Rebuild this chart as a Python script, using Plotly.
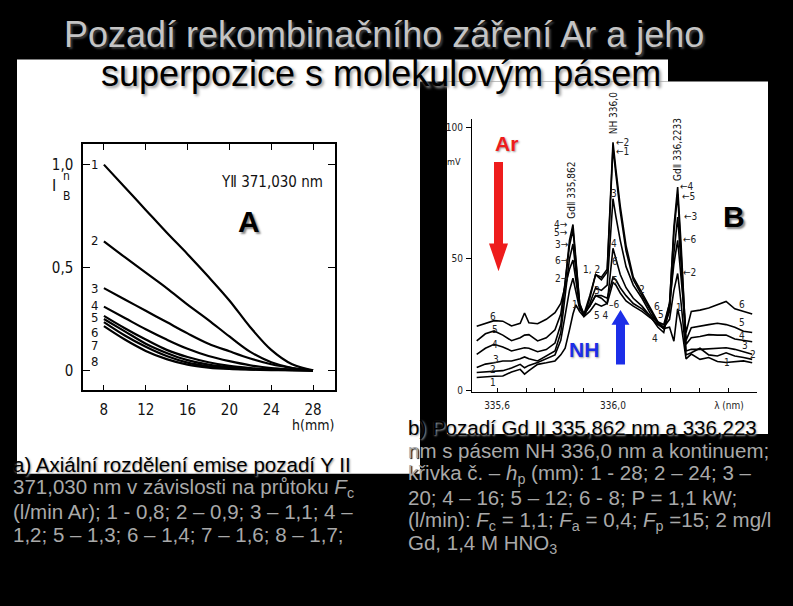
import plotly.graph_objects as go

W, H = 793, 606

# ---------------- Data: panel A (Y II 371,030 nm) ----------------
h_mm = [8, 10, 12, 14, 16, 18, 20, 22, 24, 26, 28]
a1 = [1.0, 0.89, 0.78, 0.67, 0.565, 0.455, 0.34, 0.21, 0.10, 0.03, 0.0]
a2 = [0.627, 0.55, 0.475, 0.40, 0.32, 0.245, 0.165, 0.09, 0.04, 0.012, 0.0]
a3 = [0.40, 0.345, 0.29, 0.235, 0.18, 0.13, 0.093, 0.058, 0.03, 0.012, 0.0]
a4 = [0.31, 0.255, 0.20, 0.15, 0.105, 0.07, 0.045, 0.025, 0.012, 0.005, 0.0]
a5 = [0.265, 0.205, 0.15, 0.10, 0.065, 0.04, 0.022, 0.012, 0.006, 0.003, 0.0]
a6 = [0.25, 0.19, 0.13, 0.085, 0.05, 0.028, 0.015, 0.008, 0.004, 0.002, 0.0]
a7 = [0.235, 0.17, 0.115, 0.07, 0.038, 0.02, 0.01, 0.005, 0.003, 0.001, 0.0]
a8 = [0.215, 0.15, 0.095, 0.055, 0.028, 0.014, 0.007, 0.004, 0.002, 0.001, 0.0]
a_curves = [a1, a2, a3, a4, a5, a6, a7, a8]
a_label_y = [1.0, 0.629, 0.40, 0.314, 0.255, 0.186, 0.122, 0.045]
a_xticks = [8, 12, 16, 20, 24, 28]
a_yticks = [0, 0.5, 1.0]
a_yticktext = ["0", "0,5", "1,0"]

# ---------------- Data: panel B (spectra, mV) ----------------
lam = [335.53, 335.56, 335.59, 335.62, 335.65, 335.68, 335.695, 335.71, 335.74, 335.77,
       335.80, 335.82, 335.835, 335.85, 335.862, 335.872, 335.885, 335.90, 335.92, 335.94,
       335.96, 335.98, 335.99, 336.00, 336.01, 336.025, 336.045, 336.07, 336.10, 336.13,
       336.155, 336.175, 336.195, 336.21, 336.223, 336.235, 336.252, 336.27, 336.30, 336.33,
       336.36, 336.39, 336.42, 336.45, 336.48]
b1 = [4.9, 5.2, 5.4, 5.5, 7.0, 8.0, 6.2, 7.5, 9.9, 10.5,
      11.2, 13.5, 16.0, 23.0, 29.0, 32.5, 30.0, 28.0, 35.0, 44.0,
      42.0, 45.0, 66.0, 92.3, 82.0, 68.0, 53.0, 42.0, 36.0, 30.0,
      25.5, 23.5, 24.0, 18.7, 31.0, 25.0, 12.0, 13.8, 11.8, 12.5,
      11.0, 10.6, 10.8, 11.2, 10.5]
b2 = [6.8, 7.0, 7.3, 7.5, 8.5, 9.9, 8.6, 9.5, 10.6, 12.0,
      13.5, 19.0, 28.0, 38.0, 42.6, 38.0, 31.0, 29.0, 36.0, 44.0,
      43.0, 46.0, 68.0, 94.2, 84.0, 70.0, 55.0, 43.0, 37.0, 31.0,
      26.0, 24.0, 27.0, 38.0, 44.4, 33.0, 13.5, 14.3, 16.0, 13.5,
      13.1, 14.3, 13.1, 12.5, 11.8]
b3 = [8.7, 10.0, 10.5, 11.2, 11.2, 12.0, 12.7, 12.0, 11.2, 13.0,
      15.0, 22.0, 36.0, 50.0, 55.6, 45.0, 32.0, 28.0, 33.0, 39.0,
      38.0, 40.0, 55.0, 72.8, 66.0, 57.0, 47.0, 40.0, 35.0, 29.0,
      25.5, 23.5, 30.0, 52.0, 65.8, 48.0, 15.0, 15.6, 15.6, 15.8,
      16.0, 16.2, 15.6, 14.5, 13.7]
b4 = [13.7, 16.0, 17.5, 16.5, 15.0, 15.8, 16.2, 16.0, 14.7, 15.5,
      18.0, 25.0, 40.0, 57.0, 63.0, 50.0, 33.0, 28.0, 30.0, 33.0,
      32.0, 33.0, 43.0, 54.0, 50.0, 44.0, 39.0, 35.0, 32.0, 28.0,
      24.0, 22.0, 32.0, 62.0, 77.2, 55.0, 17.5, 20.0, 20.5, 21.2,
      21.0, 21.0, 19.5, 19.0, 18.5]
b5 = [18.8, 21.5, 22.6, 21.0, 18.9, 20.0, 21.0, 21.2, 18.8, 20.0,
      23.0, 29.0, 41.0, 55.0, 61.0, 48.0, 33.0, 29.0, 32.0, 36.0,
      35.0, 33.0, 37.0, 41.0, 40.0, 37.0, 34.0, 32.0, 30.0, 27.5,
      25.0, 23.5, 33.0, 60.0, 74.6, 53.0, 19.0, 23.8, 24.5, 25.0,
      25.5, 25.0, 24.0, 22.5, 22.0]
b6 = [24.4, 25.5, 26.5, 26.3, 24.5, 25.5, 29.4, 25.7, 25.3, 27.0,
      29.5, 33.0, 39.0, 46.0, 49.5, 42.0, 32.0, 29.0, 32.0, 36.0,
      36.0, 35.0, 39.0, 43.0, 42.0, 39.0, 36.0, 33.0, 31.0, 28.0,
      26.0, 25.0, 33.0, 48.0, 57.0, 42.0, 22.0, 30.0, 30.5, 31.3,
      32.5, 33.8, 31.0, 30.0, 29.0]
b_curves = [b1, b2, b3, b4, b5, b6]
b_xticks = [335.6, 335.7, 335.8, 335.9, 336.0, 336.1, 336.2, 336.3, 336.4]
b_xticktext = ["335,6", " ", " ", " ", "336,0", " ", " ", " ", "\u03bb (nm)"]
b_yticks = [0, 50, 100]


def PX(x):
    return x / W


def PY(y):
    return 1 - y / H


fig = go.Figure()

for c in a_curves:
    fig.add_trace(go.Scatter(x=h_mm, y=c, mode="lines", xaxis="x", yaxis="y",
                             line=dict(color="black", width=2.2, shape="spline"),
                             showlegend=False, hoverinfo="skip"))
for c in b_curves:
    fig.add_trace(go.Scatter(x=lam, y=c, mode="lines", xaxis="x2", yaxis="y2",
                             line=dict(color="black", width=1.6),
                             showlegend=False, hoverinfo="skip"))

shapes = []
# white panels
shapes.append(dict(type="rect", xref="paper", yref="paper", x0=PX(17), x1=PX(420),
                   y0=PY(477), y1=PY(60), fillcolor="white", line_width=0, layer="below"))
shapes.append(dict(type="rect", xref="paper", yref="paper", x0=PX(420), x1=PX(668),
                   y0=PY(82), y1=PY(60), fillcolor="white", line_width=0, layer="below"))
shapes.append(dict(type="rect", xref="paper", yref="paper", x0=PX(447), x1=PX(768),
                   y0=PY(437), y1=PY(82), fillcolor="white", line_width=0, layer="below"))


def poly(points):
    s = "M " + " L ".join(f"{PX(x):.5f},{PY(y):.5f}" for x, y in points) + " Z"
    return s

# red arrow (down)
shapes.append(dict(type="path", xref="paper", yref="paper", line_width=0, fillcolor="#ee1c1c",
                   path=poly([(494, 163), (503, 163), (503, 245), (508, 245), (498.5, 273),
                              (489, 245), (494, 245)])))
# blue arrow (up)
shapes.append(dict(type="path", xref="paper", yref="paper", line_width=0, fillcolor="#1c2ee8",
                   path=poly([(616, 367), (625, 367), (625, 327), (629.5, 327), (620.5, 312),
                              (611.5, 327), (616, 327)])))

ann = []
NARROW = "Liberation Sans Narrow, DejaVu Sans Condensed, Arial Narrow, sans-serif"
ARIAL = "Liberation Sans, Arial, sans-serif"


def txt(t, x, y, size=11, color="#111", family=NARROW,
        xanchor="center", yanchor="middle", angle=0, weight=None, shadow=None):
    f = dict(size=size, color=color, family=family)
    if weight:
        f["weight"] = weight
    if shadow:
        f["shadow"] = shadow
    ann.append(dict(text=t, x=PX(x), y=PY(y), xref="paper", yref="paper", showarrow=False,
                    xanchor=xanchor, yanchor=yanchor, textangle=angle, font=f))


# Title
txt("Pozad\u00ed rekombina\u010dn\u00edho z\u00e1\u0159en\u00ed Ar a jeho", 384, 35, size=36,
    color="#c4c4c4", family=ARIAL, shadow="2px 2px 2px #3a3a3a")
txt("superpozice s molekulov\u00fdm p\u00e1sem", 381, 74, size=36, color="#000000",
    family=ARIAL, shadow="2px 2px 3px #9a9a9a")

# Panel A texts
txt("Y\u2161 371,030 nm", 272, 183, size=15)
txt("<b>A</b>", 249, 223, size=30, family=ARIAL, color="#000", shadow="2px 2px 2px #888")
txt("I", 54, 187, size=16)
txt("n", 66, 177, size=12)
txt("B", 66, 197, size=12)
txt("h(mm)", 313, 428, size=14)
for i, yv in enumerate(a_label_y):
    ann.append(dict(text=str(i + 1), x=7.1, y=yv, xref="x", yref="y", showarrow=False,
                    xanchor="center", yanchor="middle",
                    font=dict(size=13, color="#111", family=NARROW)))

# Panel B texts
txt("Ar", 506, 144, size=21, family=ARIAL, color="#ee1c1c", weight="bold", shadow="1px 1px 2px #999")
txt("NH", 584, 352, size=21, family=ARIAL, color="#1c2ee8", weight="bold", shadow="1px 1px 2px #999")
txt("<b>B</b>", 734, 218, size=30, family=ARIAL, color="#000", shadow="2px 2px 2px #888")
txt("mV", 454, 163, size=9)
txt("Gd\u2161 335,862", 572, 192, size=10, angle=-90)
txt("NH 336,0", 613, 114, size=10, angle=-90)
txt("Gd\u2161 336,2233", 677, 151, size=10, angle=-90)

small = [
    ("4\u2192", 561, 226), ("5\u2192", 561, 234), ("3\u2192", 562, 246), ("6\u2192", 562, 262),
    ("2\u2192", 562, 280),
    ("\u21902", 622, 143), ("\u21901", 622, 153),
    ("\u21904", 687, 188), ("\u21905", 688, 198), ("\u21903", 690, 218), ("\u21906", 690, 241),
    ("\u21902", 689, 274),
    ("1", 575, 307), ("1, 2", 591, 271), ("3", 597, 292), ("4", 614, 245), ("3", 614, 195),
    ("6", 615, 263), ("5", 615, 282), ("\u20136", 614, 307), ("5 4", 601, 318),
    ("2", 642, 291), ("6", 657, 309), ("5", 661, 317), ("4", 655, 341), ("1", 679, 310),
    ("6", 493, 319), ("5", 495, 332), ("4", 495, 347), ("3", 496, 362), ("2", 493, 372),
    ("1", 493, 385),
    ("6", 742, 307), ("5", 742, 325), ("4", 742, 338), ("3", 745, 348), ("2", 753, 357),
    ("1", 727, 365),
]
for t, x, y in small:
    txt(t, x, y, size=10, color="#222")

# Captions
GRAY = "#a9a9a9"
gsh = "1px 1px 1px #000"
lines_a = [
    ("a) Axi\u00e1ln\u00ed rozd\u011blen\u00ed emise pozad\u00ed Y II", "#000", "1px 1px 2px #999"),
    ("371,030 nm v z\u00e1vislosti na pr\u016ftoku <i>F</i><sub>c</sub>", GRAY, gsh),
    ("(l/min Ar); 1 - 0,8; 2 \u2013 0,9; 3 \u2013 1,1; 4 \u2013", GRAY, gsh),
    ("1,2; 5 \u2013 1,3; 6 \u2013 1,4; 7 \u2013 1,6; 8 \u2013 1,7;", GRAY, gsh),
]
for i, (t, col, sh) in enumerate(lines_a):
    txt(t, 11, 468 + i * 23.2, size=20.5, color=col, family=ARIAL, xanchor="left", shadow=sh)

lines_b = [
    ("b) Pozad\u00ed Gd II 335,862 nm a 336,223", "#000", "1px 1px 2px #aaa"),
    ("nm s p\u00e1sem NH 336,0 nm a kontinuem;", GRAY, gsh),
    ("k\u0159ivka \u010d. \u2013 <i>h</i><sub>p</sub> (mm): 1 - 28; 2 \u2013 24; 3 \u2013", GRAY, gsh),
    ("20; 4 \u2013 16; 5 \u2013 12; 6 - 8; P = 1,1 kW;", GRAY, gsh),
    ("(l/min): <i>F</i><sub>c</sub> = 1,1; <i>F</i><sub>a</sub> = 0,4; <i>F</i><sub>p</sub> =15; 2 mg/l", GRAY, gsh),
    ("Gd, 1,4 M HNO<sub>3</sub>", GRAY, gsh),
]
for i, (t, col, sh) in enumerate(lines_b):
    txt(t, 406, 430 + i * 23.5, size=20.5, color=col, family=ARIAL, xanchor="left", shadow=sh)

TICKF = dict(size=15, color="#111", family=NARROW)
TICKF2 = dict(size=10, color="#222", family=NARROW)

fig.update_layout(
    width=W, height=H, margin=dict(l=0, r=0, t=0, b=0),
    paper_bgcolor="black", plot_bgcolor="rgba(0,0,0,0)",
    showlegend=False,
    shapes=shapes, annotations=ann,
    xaxis=dict(domain=[PX(83), PX(335)], range=[6.0, 30.1], anchor="y",
               tickvals=a_xticks, ticks="inside", ticklen=6, tickwidth=1.3, tickcolor="black",
               showline=True, linecolor="black", linewidth=1.5, mirror="ticks",
               showgrid=False, zeroline=False, tickfont=TICKF, ticklabelstandoff=5),
    yaxis=dict(domain=[PY(393), PY(145)], range=[-0.097, 1.10], anchor="x",
               tickvals=a_yticks, ticktext=a_yticktext, ticks="inside", ticklen=7, tickwidth=1.3,
               tickcolor="black", showline=True, linecolor="black", linewidth=1.5, mirror="ticks",
               showgrid=False, zeroline=False, tickfont=TICKF, ticklabelstandoff=5),
    xaxis2=dict(domain=[PX(472), PX(757)], range=[335.5138, 336.4966], anchor="y2",
                tickvals=b_xticks, ticktext=b_xticktext, ticks="inside", ticklen=4, tickwidth=1,
                tickcolor="black", showline=True, linecolor="black", linewidth=1.2,
                showgrid=False, zeroline=False, tickfont=TICKF2, ticklabelstandoff=4),
    yaxis2=dict(domain=[PY(395), PY(120)], range=[-0.75, 103], anchor="x2",
                tickvals=b_yticks, ticks="outside", ticklen=5, tickwidth=1, tickcolor="black",
                showline=True, linecolor="black", linewidth=1.2,
                showgrid=False, zeroline=False, tickfont=TICKF2, ticklabelstandoff=1),
)

fig.write_html("out.html")
